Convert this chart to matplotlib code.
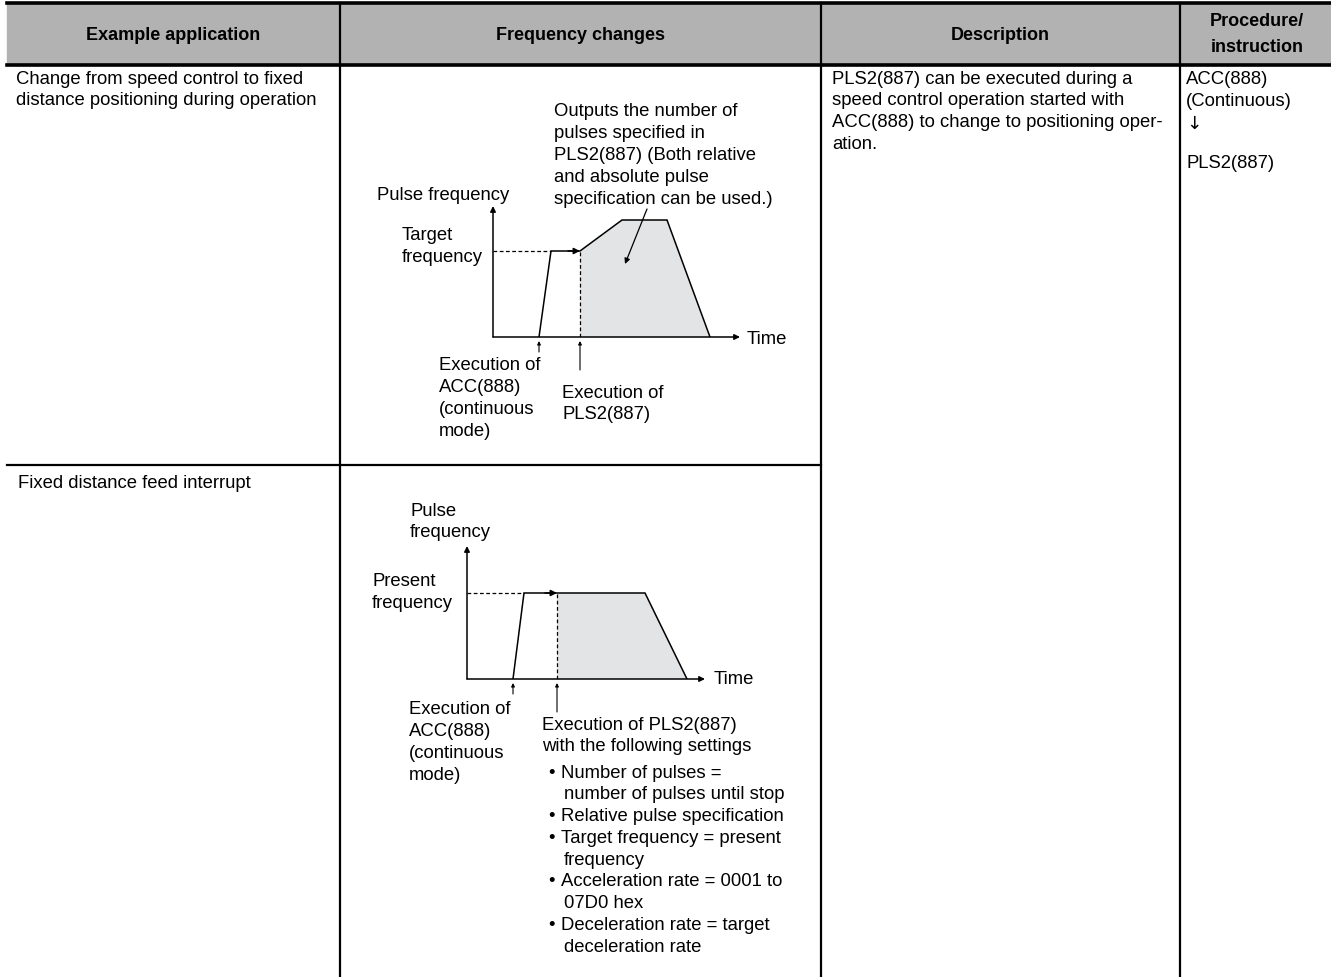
import matplotlib.pyplot as plt
from matplotlib.patches import Rectangle, Polygon

plt.rcParams['font.family'] = ['Liberation Sans', 'DejaVu Sans']

W, H = 1331, 978

# Table content
headers = ["Example application", "Frequency changes", "Description"]
header_proc = ["Procedure/", "instruction"]
app_row1 = ["Change from speed control to fixed", "distance positioning during operation"]
app_row2 = ["Fixed distance feed interrupt"]
description = ["PLS2(887) can be executed during a", "speed control operation started with",
               "ACC(888) to change to positioning oper-", "ation."]
procedure = ["ACC(888)", "(Continuous)", "\u2193", "PLS2(887)"]

# Diagram 1: speed control -> positioning (time, frequency in diagram units)
d1_time = [46, 58, 87, 129, 174, 217]
d1_freq = [0, 86, 86, 117, 117, 0]
d1_exec = [46, 87]          # ACC start, PLS2 execution
d1_axis = [247, 131]
# Diagram 2: fixed distance feed interrupt
d2_time = [46, 57, 90, 178, 220]
d2_freq = [0, 86, 86, 86, 0]
d2_exec = [46, 90]
d2_axis = [238, 133]

fig = plt.figure(figsize=(W / 100, H / 100), dpi=100)
ax = fig.add_axes([0, 0, 1, 1])
ax.set_xlim(0, W)
ax.set_ylim(H, 0)
ax.axis('off')

FS = 13.3
LS = 21.8

# header
ax.add_patch(Rectangle((7, 4), W - 7, 62, color='#b2b2b2', zorder=0))
ax.plot([7, W], [4, 4], color='black', lw=2.6)
ax.plot([7, W], [66, 66], color='black', lw=2.6)
ax.plot([7, 821], [466, 466], color='black', lw=1.6)
for x in [340, 821, 1180]:
    ax.plot([x, x], [4, H], color='black', lw=1.6)

for x, t in zip([173, 580, 1000], headers):
    ax.text(x, 36, t, ha='center', va='center', fontsize=13, fontweight='bold')
ax.text(1257, 22, header_proc[0], ha='center', va='center', fontsize=13, fontweight='bold')
ax.text(1257, 47, header_proc[1], ha='center', va='center', fontsize=13, fontweight='bold')


def lines(x, y, items, **kw):
    for i, s in enumerate(items):
        ax.text(x, y + i * LS, s, ha='left', va='center', fontsize=FS, **kw)


lines(16, 79, app_row1)
lines(18, 484, app_row2)
lines(832, 79, description)
ax.text(1186, 79, procedure[0], va='center', fontsize=FS)
ax.text(1186, 101, procedure[1], va='center', fontsize=FS)
ax.text(1186, 124, procedure[2], va='center', fontsize=FS, family='DejaVu Sans')
ax.text(1186, 164, procedure[3], va='center', fontsize=FS)


def diagram(ox, oy, t, f, ex, axis, fill_from):
    dax = fig.add_axes([ox / W, (H - oy) / H, 260 / W, 140 / H])
    dax.set_xlim(0, 260)
    dax.set_ylim(0, 140)
    dax.axis('off')
    kw = dict(arrowstyle='-|>', color='black', lw=1.1, mutation_scale=8,
              shrinkA=0, shrinkB=0)
    dax.annotate('', xy=(axis[0], 0), xytext=(0, 0), arrowprops=kw, annotation_clip=False)
    dax.annotate('', xy=(0, axis[1]), xytext=(0, 0), arrowprops=kw, annotation_clip=False)
    # shaded positioning area
    k = t.index(fill_from)
    poly = [(fill_from, 0)] + list(zip(t[k:], f[k:]))
    dax.add_patch(Polygon(poly, closed=True, facecolor='#e3e4e6', edgecolor='none', zorder=0))
    dax.plot(t, f, color='black', lw=1.1, solid_joinstyle='miter')
    dax.annotate('', xy=(fill_from, f[k]), xytext=(fill_from - 12, f[k]),
                 arrowprops=dict(kw, mutation_scale=9))
    dax.plot([0, t[1]], [f[1], f[1]], color='black', lw=0.9, ls=(0, (3, 2)))
    dax.plot([fill_from, fill_from], [0, f[k]], color='black', lw=0.9, ls=(0, (3, 2)))
    # execution markers
    dax.annotate('', xy=(ex[0], -4), xytext=(ex[0], -15), arrowprops=dict(kw, lw=0.8, mutation_scale=5),
                 annotation_clip=False)
    dax.annotate('', xy=(ex[1], -4), xytext=(ex[1], -33), arrowprops=dict(kw, lw=0.8, mutation_scale=5),
                 annotation_clip=False)
    return dax


d1 = diagram(493, 338, d1_time, d1_freq, d1_exec, d1_axis, d1_exec[1])
d1.annotate('', xy=(132, 73), xytext=(154, 128),
            arrowprops=dict(arrowstyle='-|>', color='black', lw=0.9, mutation_scale=8,
                            shrinkA=0, shrinkB=0), annotation_clip=False)
d2 = diagram(467, 680, d2_time, d2_freq, d2_exec, d2_axis, d2_exec[1])

# diagram 1 labels
ax.text(377, 195, "Pulse frequency", va='center', fontsize=FS)
lines(402, 236, ["Target", "frequency"])
lines(554, 112, ["Outputs the number of", "pulses specified in", "PLS2(887) (Both relative",
                 "and absolute pulse", "specification can be used.)"])
ax.text(747, 339, "Time", va='center', fontsize=FS)
lines(439, 366, ["Execution of", "ACC(888)", "(continuous", "mode)"])
lines(562, 393, ["Execution of", "PLS2(887)"])

# diagram 2 labels
lines(410, 511, ["Pulse", "frequency"])
lines(372, 582, ["Present", "frequency"])
ax.text(714, 680, "Time", va='center', fontsize=FS)
lines(409, 710, ["Execution of", "ACC(888)", "(continuous", "mode)"])
lines(542, 725, ["Execution of PLS2(887)", "with the following settings"])
bullets = [["Number of pulses =", "number of pulses until stop"],
           ["Relative pulse specification"],
           ["Target frequency = present", "frequency"],
           ["Acceleration rate = 0001 to", "07D0 hex"],
           ["Deceleration rate = target", "deceleration rate"]]
y = 773
for b in bullets:
    ax.text(548, y, "\u2022", va='center', fontsize=FS)
    ax.text(561, y, b[0], va='center', fontsize=FS)
    for s in b[1:]:
        y += LS
        ax.text(564, y, s, va='center', fontsize=FS)
    y += LS

fig.savefig('out.png', dpi=100)
